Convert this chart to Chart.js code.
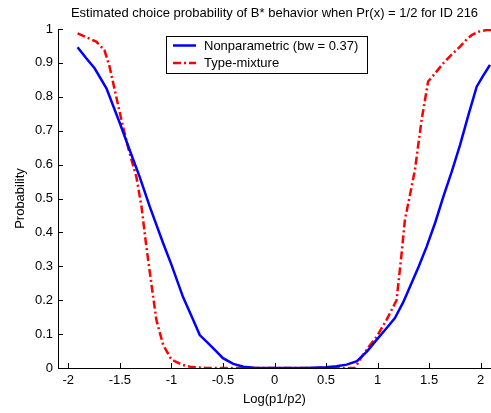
<!DOCTYPE html>
<html>
<head>
<meta charset="utf-8">
<script src="https://cdn.jsdelivr.net/npm/chart.js@4"></script>
<style>
html,body{margin:0;padding:0;background:#fff;}
#wrap{width:491px;height:413px;position:relative;}
</style>
</head>
<body>
<div id="wrap"><canvas id="c" width="491" height="413"></canvas></div>
<script>
const titleText = "Estimated choice probability of B* behavior when Pr(x) = 1/2 for ID 216";
const xLabel = "Log(p1/p2)";
const yLabel = "Probability";
const seriesNames = ["Nonparametric (bw = 0.37)", "Type-mixture"];
const xTicks = [-2, -1.5, -1, -0.5, 0, 0.5, 1, 1.5, 2];
const yTicks = [0, 0.1, 0.2, 0.3, 0.4, 0.5, 0.6, 0.7, 0.8, 0.9, 1];

const npX = [-1.91,-1.83,-1.745,-1.63,-1.50,-1.405,-1.308,-1.21,-1.08,-1.0,-0.888,-0.80,-0.725,-0.6,-0.5,-0.4,-0.3,-0.2,0,0.3,0.5,0.6,0.7,0.8,0.9,0.99,1.08,1.168,1.25,1.314,1.40,1.476,1.56,1.637,1.72,1.80,1.88,1.961,2.02,2.09];
const npY = [0.946,0.915,0.884,0.825,0.722,0.643,0.564,0.476,0.368,0.305,0.21,0.15,0.097,0.06,0.029,0.012,0.004,0.001,0,0,0.002,0.005,0.01,0.02,0.05,0.083,0.115,0.147,0.195,0.24,0.30,0.358,0.43,0.505,0.58,0.658,0.745,0.83,0.86,0.894];

const tmX = [-1.91,-1.82,-1.73,-1.65,-1.60,-1.535,-1.47,-1.405,-1.34,-1.29,-1.243,-1.195,-1.146,-1.08,-1.0,-0.9,-0.82,-0.66,0,0.78,0.845,0.92,0.99,1.087,1.184,1.233,1.265,1.32,1.362,1.427,1.49,1.56,1.637,1.72,1.80,1.86,1.913,1.98,2.058,2.1];
const tmY = [0.987,0.975,0.963,0.938,0.889,0.80,0.712,0.633,0.564,0.476,0.358,0.25,0.142,0.068,0.025,0.01,0.004,0,0,0,0.033,0.065,0.092,0.142,0.20,0.338,0.437,0.52,0.584,0.732,0.845,0.87,0.899,0.925,0.948,0.968,0.982,0.992,0.997,0.997];

const FONT = "'Liberation Sans', Arial, sans-serif";
const FS = 13;

const pts = (xs, ys) => xs.map((x, i) => ({x: x, y: ys[i]}));

const decorPlugin = {
  id: 'decor',
  afterDraw(chart) {
    const ctx = chart.ctx;
    const a = chart.chartArea;
    const xs = chart.scales.x, ys = chart.scales.y;
    ctx.save();
    // inward tick marks
    ctx.strokeStyle = '#000';
    ctx.lineWidth = 1;
    ctx.beginPath();
    xTicks.forEach(v => {
      const px = Math.round(xs.getPixelForValue(v)) + 0.5;
      ctx.moveTo(px, a.bottom);
      ctx.lineTo(px, a.bottom - 5);
    });
    yTicks.forEach(v => {
      const py = Math.round(ys.getPixelForValue(v)) + 0.5;
      ctx.moveTo(a.left, py);
      ctx.lineTo(a.left + 5, py);
    });
    ctx.stroke();
    // title
    ctx.fillStyle = '#000';
    ctx.font = FS + 'px ' + FONT;
    ctx.textAlign = 'center';
    ctx.textBaseline = 'middle';
    ctx.fillText(titleText, (a.left + a.right) / 2, 13);
    // x label
    ctx.fillText(xLabel, (a.left + a.right) / 2, 399);
    // y label
    ctx.save();
    ctx.translate(20, (a.top + a.bottom) / 2);
    ctx.rotate(-Math.PI / 2);
    ctx.fillText(yLabel, 0, 0);
    ctx.restore();
    // legend
    const lx = 166.5, ly = 36.5, lw = 201, lh = 37;
    ctx.fillStyle = '#fff';
    ctx.fillRect(lx, ly, lw, lh);
    ctx.strokeStyle = '#000';
    ctx.lineWidth = 1;
    ctx.strokeRect(lx, ly, lw, lh);
    chart.data.datasets.forEach((ds, i) => {
      const yy = 45.5 + i * 17.5;
      ctx.strokeStyle = ds.borderColor;
      ctx.lineWidth = ds.borderWidth;
      ctx.setLineDash(ds.borderDash || []);
      ctx.beginPath();
      ctx.moveTo(173, yy);
      ctx.lineTo(196, yy);
      ctx.stroke();
      ctx.setLineDash([]);
      ctx.fillStyle = '#000';
      ctx.textAlign = 'left';
      ctx.fillText(ds.label, 204, yy + 0.5);
    });
    ctx.restore();
  }
};

new Chart(document.getElementById('c'), {
  type: 'line',
  data: {
    datasets: [
      {label: seriesNames[0], data: pts(npX, npY), borderColor: '#0000ff', borderWidth: 2.5, pointRadius: 0, tension: 0, fill: false},
      {label: seriesNames[1], data: pts(tmX, tmY), borderColor: '#ff0000', borderWidth: 2.5, borderDash: [8, 3, 2, 3], pointRadius: 0, tension: 0, fill: false}
    ]
  },
  options: {
    responsive: false,
    animation: false,
    devicePixelRatio: 1,
    layout: {padding: {left: 0, right: 0, top: 29, bottom: 0}},
    plugins: {legend: {display: false}, title: {display: false}, tooltip: {enabled: false}},
    scales: {
      x: {
        type: 'linear', min: -2.1, max: 2.1,
        afterBuildTicks: s => { s.ticks = xTicks.map(v => ({value: v})); },
        afterFit: s => { s.height = 45; },
        grid: {display: true, drawOnChartArea: false, drawTicks: false},
        border: {display: true, color: '#000', width: 1},
        ticks: {color: '#000', padding: 5, font: {family: FONT, size: FS}, maxRotation: 0, autoSkip: false,
          callback: v => String(v)}
      },
      y: {
        type: 'linear', min: 0, max: 1,
        afterBuildTicks: s => { s.ticks = yTicks.map(v => ({value: v})); },
        afterFit: s => { s.width = 58; },
        grid: {display: true, drawOnChartArea: false, drawTicks: false},
        border: {display: true, color: '#000', width: 1},
        ticks: {color: '#000', padding: 5, font: {family: FONT, size: FS}, autoSkip: false,
          callback: v => String(v)}
      }
    }
  },
  plugins: [decorPlugin]
});
</script>
</body>
</html>
